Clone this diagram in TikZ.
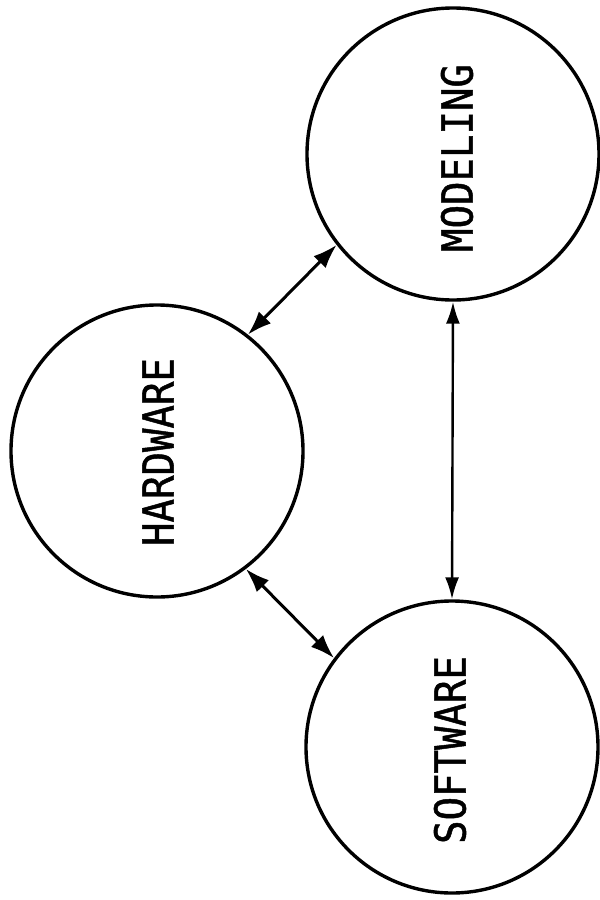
\documentclass[tikz,border=0pt]{standalone}
\usepackage{fontspec}
\newfontfamily\plotfont[FakeBold=1.2]{DejaVu Sans Mono}
\usetikzlibrary{arrows.meta}

\newcommand{\tallword}[1]{\rotatebox{90}{\scalebox{1}[1.1]{#1}}}

\tikzset{
  topic/.style={circle, draw, line width=3.4pt, minimum size=292pt, inner sep=0pt},
  word/.style={inner sep=0pt, font=\plotfont\fontsize{39}{39}\selectfont},
  link/.style={line width=3pt, {Latex[length=24pt,width=17pt]}-{Latex[length=24pt,width=17pt]}},
  thinlink/.style={line width=2.4pt, {Latex[length=22pt,width=14pt]}-{Latex[length=22pt,width=14pt]}}
}

\begin{document}
\begin{tikzpicture}[x=1pt, y=-1pt]
  \useasboundingbox (0,0) rectangle (600,900);

  % the three topics
  \node[topic] (M) at (453,154) {};
  \node[topic] (H) at (157,451) {};
  \node[topic] (S) at (452,747) {};

  % their names, set upright along the page
  \node[word] (Mt) at (457,158) {\tallword{MODELING}};
  \node[word] (Ht) at (158,452) {\tallword{HARDWARE}};
  \node[word] (St) at (450,750) {\tallword{SOFTWARE}};

  % two-way links between them
  \draw[link] (H.52) -- (M.218);
  \draw[link] (H.-53) -- (S.143);
  \draw[thinlink] (M.270) -- (S.90);
\end{tikzpicture}
\end{document}
